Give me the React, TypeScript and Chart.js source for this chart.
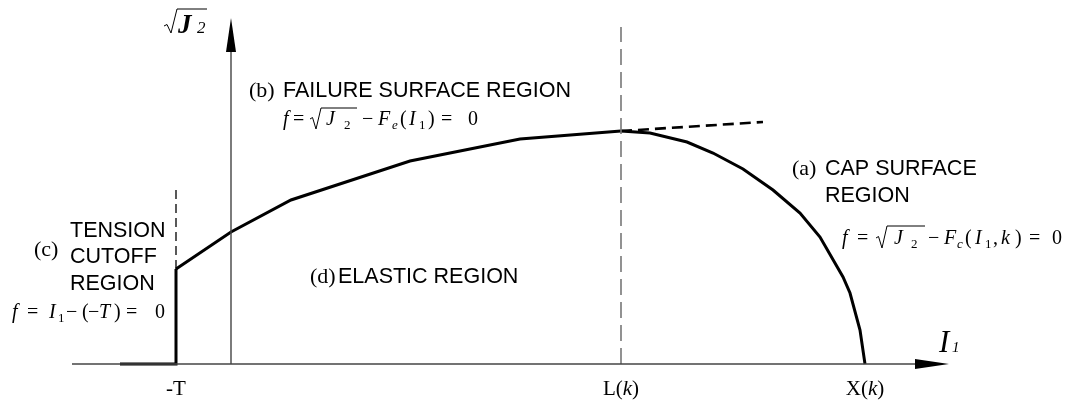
import React, { useEffect, useRef } from "react";
import { Chart, registerables } from "chart.js";

Chart.register(...registerables);

// ---- data (I1 on x, sqrt(J2) on y, arbitrary units) ----
const failureI1 = [-5.5, 0, 6.0, 17.9, 28.9, 39.0];
const failureJ2 = [9.5, 13.2, 16.4, 20.3, 22.5, 23.3];
const capI1 = [39.0, 41.9, 45.6, 48.2, 51.2, 54.2, 56.9, 58.9, 61.2, 61.9, 62.9, 63.4];
const capJ2 = [23.3, 23.1, 22.2, 21.1, 19.5, 17.4, 15.1, 12.7, 8.7, 7.1, 3.4, 0];
const tensionI1 = [-11.1, -5.5, -5.5];
const tensionJ2 = [0, 0, 9.5];
const extensionI1 = [39.0, 53.2];
const extensionJ2 = [23.3, 24.2];
const lGuideJ2 = [0, 33.7];
const tGuideJ2 = [9.5, 17.4];
const xAxisI1 = [-15.9, 68.4, 71.8]; // start, arrow base, arrow tip
const yAxisJ2 = [0, 31.2, 34.6]; // start, arrow base, arrow tip
const tickValues = [-5.5, 39.0, 63.4];
const tickLabels = ["-T", "L(k)", "X(k)"];

const SERIF = '"Liberation Serif", "Times New Roman", serif';
const SANS = '"Liberation Sans", Arial, sans-serif';

const FONTS: Record<string, [string, number]> = {
  rm: [`20px ${SERIF}`, 0],
  it: [`italic 20px ${SERIF}`, 0],
  sub: [`13px ${SERIF}`, 4],
  subit: [`italic 13px ${SERIF}`, 4],
};

type Seg = [string, string, number];

const formulaB: Seg[] = [
  ["f", "it", 283], ["=", "rm", 293], ["J", "it", 326], ["2", "sub", 344], ["\u2212", "rm", 362],
  ["F", "it", 378], ["e", "subit", 392], ["(", "rm", 400], ["I", "it", 409], ["1", "sub", 419],
  [")", "rm", 428], ["=", "rm", 441], ["0", "rm", 468],
];
const formulaA: Seg[] = [
  ["f", "it", 842], ["=", "rm", 857], ["J", "it", 894], ["2", "sub", 911], ["\u2212", "rm", 928],
  ["F", "it", 944], ["c", "subit", 957], ["(", "rm", 965], ["I", "it", 975], ["1", "sub", 985],
  [",", "rm", 993], ["k", "it", 1001], [")", "rm", 1015], ["=", "rm", 1029], ["0", "rm", 1052],
];
const formulaC: Seg[] = [
  ["f", "it", 12], ["=", "rm", 27], ["I", "it", 49], ["1", "sub", 58], ["\u2212", "rm", 66],
  ["(", "rm", 82], ["\u2212", "rm", 88], ["T", "it", 99], [")", "rm", 114], ["=", "rm", 126],
  ["0", "rm", 155],
];

function drawSegs(ctx: CanvasRenderingContext2D, segs: Seg[], baseline: number) {
  ctx.textAlign = "left";
  ctx.textBaseline = "alphabetic";
  for (const [t, s, x] of segs) {
    const [font, dy] = FONTS[s];
    ctx.font = font;
    ctx.fillText(t, x, baseline + dy);
  }
}

function drawRadical(ctx: CanvasRenderingContext2D, x0: number, yBase: number, h: number, w: number, lw = 1) {
  ctx.save();
  ctx.lineWidth = lw;
  ctx.strokeStyle = "#000";
  ctx.beginPath();
  ctx.moveTo(x0, yBase - 6);
  ctx.lineTo(x0 + 2.5, yBase - 7.5);
  ctx.lineTo(x0 + 6, yBase + 4);
  ctx.lineTo(x0 + 11, yBase - h);
  ctx.lineTo(x0 + 11 + w, yBase - h);
  ctx.stroke();
  ctx.restore();
}

const annotations = {
  id: "annotations",
  afterDraw(chart: any) {
    const ctx: CanvasRenderingContext2D = chart.ctx;
    const xs = chart.scales.x;
    const ys = chart.scales.y;
    ctx.save();
    ctx.fillStyle = "#000";

    // arrowheads
    const y0 = ys.getPixelForValue(0);
    const x0 = xs.getPixelForValue(0);
    const xb = xs.getPixelForValue(xAxisI1[1]);
    const xt = xs.getPixelForValue(xAxisI1[2]);
    ctx.beginPath();
    ctx.moveTo(xt, y0);
    ctx.lineTo(xb, y0 - 5);
    ctx.lineTo(xb, y0 + 5);
    ctx.closePath();
    ctx.fill();
    const yb = ys.getPixelForValue(yAxisJ2[1]);
    const yt = ys.getPixelForValue(yAxisJ2[2]);
    ctx.beginPath();
    ctx.moveTo(x0, yt);
    ctx.lineTo(x0 - 5, yb);
    ctx.lineTo(x0 + 5, yb);
    ctx.closePath();
    ctx.fill();

    // tick labels
    ctx.textBaseline = "alphabetic";
    tickValues.forEach((v, i) => {
      const label = tickLabels[i];
      const px = xs.getPixelForValue(v);
      const parts = label.split("").map((c) => [c, c === "k" ? `italic 21px ${SERIF}` : `21px ${SERIF}`]);
      let total = 0;
      for (const [c, f] of parts) { ctx.font = f; total += ctx.measureText(c).width; }
      let cx = px - total / 2;
      ctx.textAlign = "left";
      for (const [c, f] of parts) { ctx.font = f; ctx.fillText(c, cx, 395); cx += ctx.measureText(c).width; }
    });

    // axis titles
    ctx.textAlign = "left";
    ctx.font = `italic 31px ${SERIF}`;
    ctx.fillText("I", 939, 352);
    ctx.font = `italic 15px ${SERIF}`;
    ctx.fillText("1", 952, 352);
    ctx.font = `bold italic 27px ${SERIF}`;
    ctx.fillText("J", 178, 33);
    ctx.font = `italic 17px ${SERIF}`;
    ctx.fillText("2", 197, 33);
    ctx.save();
    ctx.lineWidth = 1;
    ctx.beginPath();
    ctx.moveTo(164, 26);
    ctx.lineTo(167, 24.5);
    ctx.lineTo(171, 33);
    ctx.lineTo(177, 9);
    ctx.lineTo(207, 9);
    ctx.stroke();
    ctx.restore();

    // region labels
    const label = (pre: string, px: number, txt: string, tx: number, y: number) => {
      ctx.font = `22px ${SERIF}`;
      ctx.fillText(pre, px, y);
      ctx.font = `21.5px ${SANS}`;
      ctx.fillText(txt, tx, y);
    };
    label("(b)", 249, "FAILURE SURFACE REGION", 283, 97);
    label("(a)", 792, "CAP SURFACE", 825, 175);
    ctx.font = `21.5px ${SANS}`;
    ctx.fillText("REGION", 825, 202);
    label("(d)", 310, "ELASTIC REGION", 338, 283);
    ctx.font = `22px ${SERIF}`;
    ctx.fillText("(c)", 34, 256);
    ctx.font = `21.5px ${SANS}`;
    ctx.fillText("TENSION", 70, 237);
    ctx.fillText("CUTOFF", 70, 263);
    ctx.fillText("REGION", 70, 290);

    // formulas
    drawSegs(ctx, formulaB, 125);
    drawRadical(ctx, 310, 125, 17, 36);
    drawSegs(ctx, formulaA, 244);
    drawRadical(ctx, 876, 244, 18, 38);
    drawSegs(ctx, formulaC, 318);

    ctx.restore();
  },
};

const pts = (xs: number[], ys: number[]) => xs.map((x, i) => ({ x, y: ys[i] }));

export default function App() {
  const ref = useRef<HTMLCanvasElement | null>(null);
  useEffect(() => {
    if (!ref.current) return;
    const solid = (data: any, width: number, color = "#000", dash: number[] = []) => ({
      data,
      showLine: true,
      borderColor: color,
      borderWidth: width,
      borderDash: dash,
      pointRadius: 0,
      fill: false,
      tension: 0,
      borderJoinStyle: "miter" as const,
      borderCapStyle: "butt" as const,
    });
    const chart = new Chart(ref.current, {
      type: "scatter",
      data: {
        datasets: [
          solid(pts([xAxisI1[0], xAxisI1[1]], [0, 0]), 1.4, "#444"),
          solid(pts([0, 0], [yAxisJ2[0], yAxisJ2[1]]), 1.4, "#444"),
          solid(pts([tickValues[1], tickValues[1]], lGuideJ2), 1.6, "#777", [16, 7]),
          solid(pts([tickValues[0], tickValues[0]], tGuideJ2), 1.3, "#000", [9, 5]),
          solid(pts(extensionI1, extensionJ2), 2.6, "#000", [11, 6]),
          solid(pts(tensionI1, tensionJ2), 3, "#000"),
          solid(pts(failureI1, failureJ2), 3, "#000"),
          solid(pts(capI1, capJ2), 3, "#000"),
        ],
      },
      options: {
        responsive: false,
        animation: false,
        events: [],
        layout: { padding: 0 },
        plugins: { legend: { display: false }, tooltip: { enabled: false } },
        scales: {
          x: { type: "linear", min: -23.1, max: 83.9, display: false },
          y: { type: "linear", min: -3.8, max: 36.4, display: false },
        },
      },
      plugins: [annotations],
    });
    return () => chart.destroy();
  }, []);
  return (
    <div style={{ position: "absolute", left: 0, top: 0, width: 1070, height: 402, background: "#fff" }}>
      <canvas ref={ref} width={1070} height={402} />
    </div>
  );
}
